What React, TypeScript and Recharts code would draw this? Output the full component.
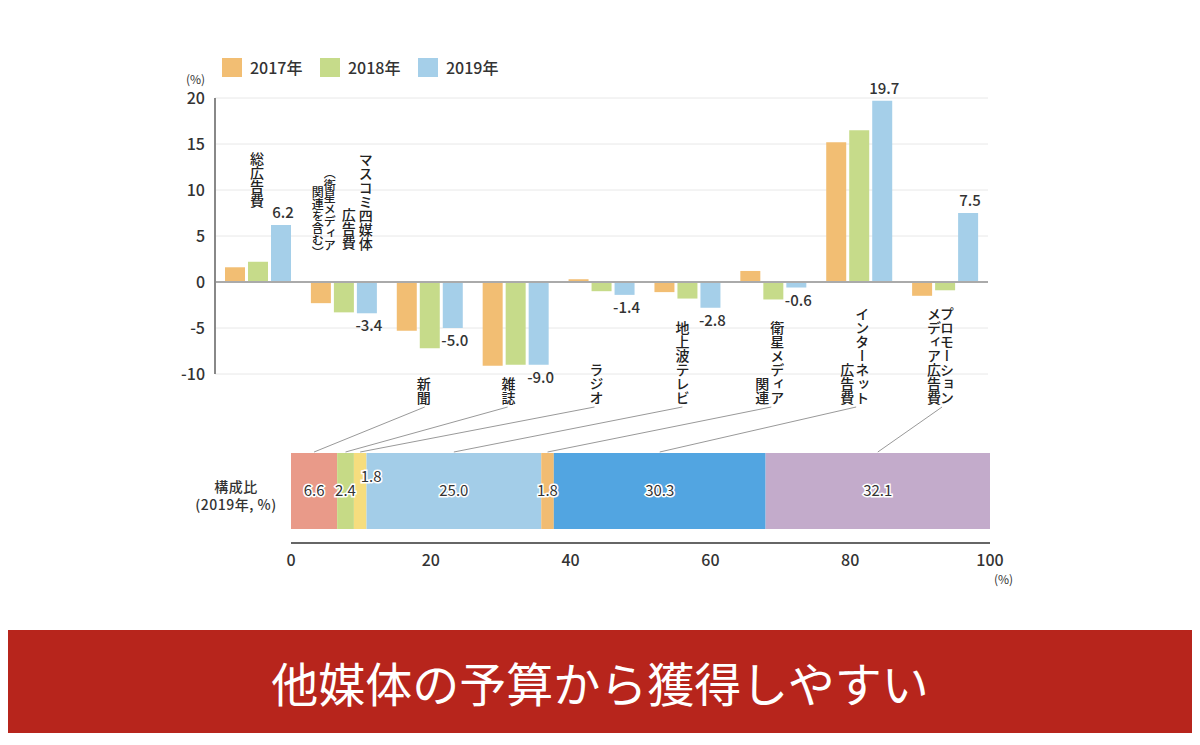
import { BarChart, Bar, XAxis, YAxis, CartesianGrid, ReferenceLine, LabelList } from 'recharts';

const categories = ['総広告費', 'マスコミ四媒体広告費', '新聞', '雑誌', 'ラジオ', '地上波テレビ', '衛星メディア関連', 'インターネット広告費', 'プロモーションメディア広告費'];
const growth2017 = [1.6, -2.3, -5.3, -9.1, 0.3, -1.1, 1.2, 15.2, -1.5];
const growth2018 = [2.2, -3.3, -7.2, -9.0, -1.0, -1.8, -1.9, 16.5, -0.9];
const growth2019 = [6.2, -3.4, -5.0, -9.0, -1.4, -2.8, -0.6, 19.7, 7.5];
const yTicks = [-10, -5, 0, 5, 10, 15, 20];

const shareNames = ['新聞', '雑誌', 'ラジオ', '地上波テレビ', '衛星メディア関連', 'インターネット広告費', 'プロモーションメディア広告費'];
const shareValues = [6.6, 2.4, 1.8, 25.0, 1.8, 30.3, 32.1];
const shareColors = ['#E99A89', '#C6DA86', '#F6DD7E', '#A3CDE8', '#F1BC72', '#52A5E1', '#C3ABCB'];
const xTicks = [0, 20, 40, 60, 80, 100];

const FONT = '"Noto Sans CJK JP", "Noto Sans", sans-serif';
const C17 = '#F2BE73';
const C18 = '#C6DB8A';
const C19 = '#A5CFE9';

const growthData = categories.map((name, i) => ({
  name,
  y2017: growth2017[i],
  y2018: growth2018[i],
  y2019: growth2019[i],
}));

const shareRow: Record<string, any> = { name: '構成比' };
shareValues.forEach((v, i) => { shareRow['s' + i] = v; });

// vertical label columns per category (right column first)
const labelCols = [
  [{ t: '総広告費', dx: -1, y: 152, top: true }],
  [
    { t: 'マスコミ四媒体', dx: 22, y: 153, top: true },
    { t: '広告費', dx: 5, y: 208, top: true },
    { t: '（衛星メディア', dx: -14, y: 167, top: true, fs: 12 },
    { t: '関連を含む）', dx: -26, y: 186, top: true, fs: 12 },
  ],
  [{ t: '新聞', dx: -6, y: 405 }],
  [{ t: '雑誌', dx: -7, y: 405 }],
  [{ t: 'ラジオ', dx: -5, y: 405 }],
  [{ t: '地上波テレビ', dx: -5, y: 405 }],
  [{ t: '衛星メディア', dx: 4, y: 405 }, { t: '関連', dx: -11, y: 405 }],
  [{ t: 'インターネット', dx: 3, y: 405 }, { t: '広告費', dx: -12, y: 405 }],
  [{ t: 'プロモーション', dx: 2, y: 405 }, { t: 'メディア広告費', dx: -11, y: 405 }],
];
const lineDx = [0, 0, -5, -8, -7, -5, -2, -3, -3];

const CategoryTick = (props: any) => {
  const { x, payload } = props;
  const idx = categories.indexOf(payload && payload.value);
  const cols = labelCols[idx] || [];
  return (
    <g>
      {cols.map((c: any, k: number) => (
        <text
          key={k}
          x={x + c.dx}
          y={c.y}
          textAnchor={c.top ? 'start' : 'end'}
          fontSize={c.fs || 14}
          fontWeight={500}
          fill="#222"
          fontFamily={FONT}
          style={{ writingMode: 'vertical-rl' as any }}
        >
          {c.t}
        </text>
      ))}
    </g>
  );
};

const GrowthLabel = (props: any) => {
  const { x, y, width, height, value } = props;
  const top = Math.min(y, y + height);
  const bottom = Math.max(y, y + height);
  const cy = value >= 0 ? top - 7 : bottom + 18;
  return (
    <text x={x + width / 2 + 2} y={cy} textAnchor="middle" fontSize={15} fontWeight={500} fill="#333" fontFamily={FONT}>
      {value.toFixed(1)}
    </text>
  );
};

const makeShareLabel = (i: number) => (props: any) => {
  const { x, y, width, height, value } = props;
  const dx = i === 2 ? 11 : 0;
  const dy = i === 2 ? -14 : 0;
  return (
    <text
      x={x + width / 2 + dx}
      y={y + height / 2 + 5 + dy}
      textAnchor="middle"
      fontSize={15}
      fill="#333"
      stroke="#fff"
      strokeWidth={3}
      paintOrder="stroke"
      fontFamily={FONT}
    >
      {value.toFixed(1)}
    </text>
  );
};

export default function App() {
  const plotL = 215;
  const plotR = 988;
  const band = (plotR - plotL) / categories.length;
  const sL = 291;
  const sR = 990;
  const sPer = (sR - sL) / 100;
  let cum = 0;
  const connectors = shareValues.map((v, i) => {
    const cx = sL + (cum + v / 2) * sPer;
    cum += v;
    const ci = i + 2;
    const tx = plotL + (ci + 0.5) * band + lineDx[ci];
    return { x1: tx, y1: 407, x2: cx, y2: 452 };
  });

  const legend = [
    { label: '2017年', color: C17, x: 222 },
    { label: '2018年', color: C18, x: 320 },
    { label: '2019年', color: C19, x: 418 },
  ];

  return (
    <div style={{ position: 'absolute', left: 0, top: 0, width: 1200, height: 745, background: '#fff', fontFamily: FONT }}>
      {legend.map((l) => (
        <div key={l.label} style={{ position: 'absolute', left: l.x, top: 58 }}>
          <div style={{ position: 'absolute', left: 0, top: 0, width: 20, height: 19, background: l.color }} />
          <div style={{ position: 'absolute', left: 28, top: 0, fontSize: 16, fontWeight: 500, lineHeight: '19px', color: '#333', whiteSpace: 'nowrap' }}>{l.label}</div>
        </div>
      ))}
      <div style={{ position: 'absolute', left: 186, top: 70, fontSize: 12, color: '#333' }}>(%)</div>

      <div style={{ position: 'absolute', left: 0, top: 0 }}>
        <BarChart
          width={1000}
          height={420}
          data={growthData}
          margin={{ top: 98, right: 1000 - plotR, bottom: 26, left: plotL - 40 }}
          barGap={3}
          barCategoryGap={10}
        >
          <CartesianGrid vertical={false} stroke="#e8e8e8" />
          <XAxis dataKey="name" height={20} axisLine={false} tickLine={false} tick={CategoryTick} interval={0} />
          <YAxis
            width={40}
            domain={[-10, 20]}
            ticks={yTicks}
            axisLine={{ stroke: '#888', strokeWidth: 2 }}
            tickLine={false}
            tick={{ fontSize: 16, fontWeight: 500, fill: '#333', fontFamily: FONT }}
            tickMargin={4}
          />
          <ReferenceLine y={0} stroke="#aaa" strokeWidth={2} />
          <Bar dataKey="y2017" fill={C17} barSize={20} isAnimationActive={false} />
          <Bar dataKey="y2018" fill={C18} barSize={20} isAnimationActive={false} />
          <Bar dataKey="y2019" fill={C19} barSize={20} isAnimationActive={false}>
            <LabelList dataKey="y2019" content={<GrowthLabel />} />
          </Bar>
        </BarChart>
      </div>

      <svg width={1200} height={745} style={{ position: 'absolute', left: 0, top: 0, pointerEvents: 'none' }}>
        {connectors.map((c, i) => (
          <line key={i} x1={c.x1} y1={c.y1} x2={c.x2} y2={c.y2} stroke="#999" strokeWidth={1} />
        ))}
      </svg>

      <div style={{ position: 'absolute', left: 176, top: 477, width: 120, textAlign: 'center', fontSize: 14, fontWeight: 500, lineHeight: '18px', color: '#333', letterSpacing: 0.5 }}>
        構成比<br />(2019年, %)
      </div>

      <div style={{ position: 'absolute', left: 0, top: 420 }}>
        <BarChart
          width={1040}
          height={180}
          data={[shareRow]}
          layout="vertical"
          margin={{ top: 18, right: 1040 - sR, bottom: 27, left: sL }}
          barCategoryGap={14}
        >
          <XAxis
            type="number"
            domain={[0, 100]}
            ticks={xTicks}
            height={30}
            axisLine={{ stroke: '#666', strokeWidth: 2 }}
            tickLine={false}
            tick={{ fontSize: 16, fontWeight: 500, fill: '#333', fontFamily: FONT }}
            tickMargin={6}
          />
          <YAxis type="category" dataKey="name" width={0} tick={false} tickLine={false} axisLine={{ stroke: '#666', strokeWidth: 2 }} />
          {shareValues.map((_, i) => (
            <Bar key={i} dataKey={'s' + i} stackId="a" fill={shareColors[i]} barSize={76} isAnimationActive={false} name={shareNames[i]}>
              <LabelList dataKey={'s' + i} content={makeShareLabel(i)} />
            </Bar>
          ))}
        </BarChart>
      </div>
      <div style={{ position: 'absolute', left: 994, top: 570, fontSize: 12, color: '#333' }}>(%)</div>

      <div
        style={{
          position: 'absolute',
          left: 8,
          top: 630,
          width: 1184,
          height: 103,
          background: '#B7251C',
          color: '#fff',
          fontSize: 47,
          lineHeight: '103px',
          textAlign: 'center',
        }}
      >
        他媒体の予算から獲得しやすい
      </div>
    </div>
  );
}
